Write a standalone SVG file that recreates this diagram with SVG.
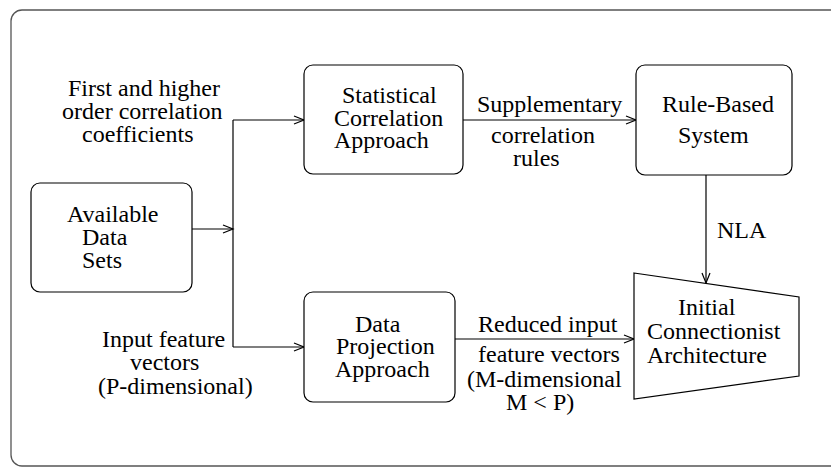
<svg xmlns="http://www.w3.org/2000/svg" width="831" height="467" viewBox="0 0 831 467">
<style>
text{font-family:"Liberation Serif","Times New Roman",serif;font-size:24px;fill:#000}
.box{fill:#fff;stroke:#000;stroke-width:1.2}
.ln{fill:none;stroke:#000;stroke-width:1.2}
.ah{fill:none;stroke:#000;stroke-width:1.2}
</style>
<rect x="11" y="10" width="840" height="456" rx="11" fill="#fff" stroke="#555" stroke-width="1.3"/>
<g id="connectors">
<path class="ln" d="M192 229H233"/>
<path class="ah" d="M223 225L233 229L223 233"/>
<path class="ln" d="M233 120V347" stroke-width="1.6"/>
<path class="ln" d="M233 120H304"/>
<path class="ah" d="M294 116L304 120L294 124"/>
<path class="ln" d="M233 347H304"/>
<path class="ah" d="M294 343L304 347L294 351"/>
<path class="ln" d="M463 120H636"/>
<path class="ah" d="M626 116L636 120L626 124"/>
<path class="ln" d="M706 175V283"/>
<path class="ah" d="M702 273L706 283L710 273"/>
<path class="ln" d="M455 339H634"/>
<path class="ah" d="M624 335L634 339L624 343"/>
<text x="68" y="96">First and higher</text>
<text x="62" y="119">order correlation</text>
<text x="82" y="142">coefficients</text>
<text x="477" y="112">Supplementary</text>
<text x="491" y="143">correlation</text>
<text x="513" y="166">rules</text>
<text x="717" y="238">NLA</text>
<text x="102" y="347">Input feature</text>
<text x="130" y="370">vectors</text>
<text x="98" y="394">(P-dimensional)</text>
<text x="478" y="332">Reduced input</text>
<text x="478" y="362">feature vectors</text>
<text x="467" y="387">(M-dimensional</text>
<text x="506" y="410">M &lt; P)</text>
</g>
<g id="available">
<rect class="box" x="31" y="183" width="161" height="109" rx="9"/>
<text x="67" y="222">Available</text>
<text x="82" y="245">Data</text>
<text x="82" y="268">Sets</text>
</g>
<g id="statistical">
<rect class="box" x="304" y="65" width="159" height="109" rx="9"/>
<text x="342" y="103">Statistical</text>
<text x="334" y="126">Correlation</text>
<text x="334" y="148">Approach</text>
</g>
<g id="rulebased">
<rect class="box" x="636" y="65" width="156" height="110" rx="9"/>
<text x="662" y="112">Rule-Based</text>
<text x="678" y="143">System</text>
</g>
<g id="projection">
<rect class="box" x="304" y="292" width="151" height="110" rx="9"/>
<text x="355" y="332">Data</text>
<text x="336" y="354">Projection</text>
<text x="335" y="377">Approach</text>
</g>
<g id="architecture">
<polygon class="box" points="634,273 799,297 799,376 634,399"/>
<text x="678" y="315">Initial</text>
<text x="647" y="339">Connectionist</text>
<text x="647" y="363">Architecture</text>
</g>
</svg>
